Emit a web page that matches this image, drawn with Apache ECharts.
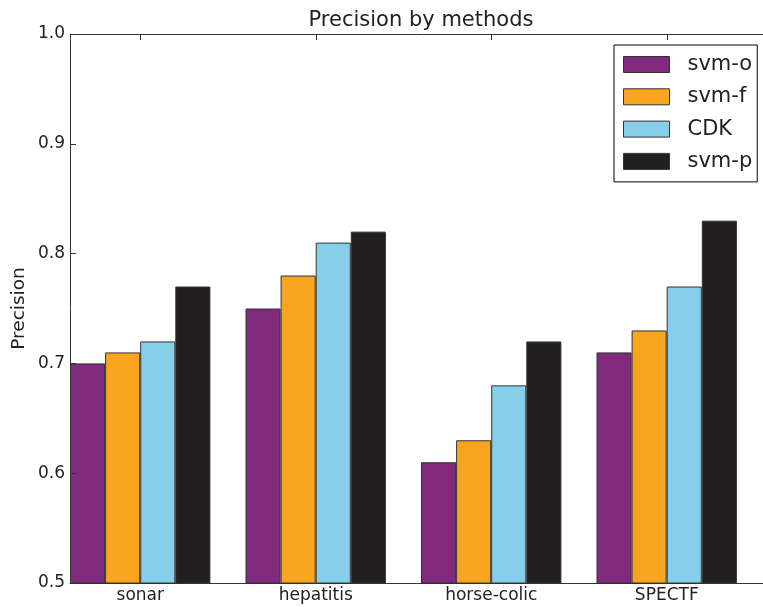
<!DOCTYPE html>
<html>
<head>
<meta charset="utf-8">
<style>
  html, body { margin: 0; padding: 0; background: #fff; }
  #chart { width: 763px; height: 607px; }
</style>
<script src="https://cdn.jsdelivr.net/npm/echarts@6/dist/echarts.min.js"></script>
</head>
<body>
<div id="chart"></div>
<script>
// Datasets on the category axis
const categories = ['sonar', 'hepatitis', 'horse-colic', 'SPECTF'];

// Precision of each method per dataset
const svmO = [0.70, 0.75, 0.61, 0.71];
const svmF = [0.71, 0.78, 0.63, 0.73];
const cdk  = [0.72, 0.81, 0.68, 0.77];
const svmP = [0.77, 0.82, 0.72, 0.83];

const methodNames = ['svm-o', 'svm-f', 'CDK', 'svm-p'];
const methodColors = ['#7f2a7c', '#f9a51f', '#87ceeb', '#231f20'];

// Value axis range and step
const yMin = 0.5, yMax = 1.0, yStep = 0.1;

const FONT = 'DejaVu Sans';
const INK = '#222';
const SPINE = '#333';

// Plot rectangle (extends a little past the right edge of the canvas)
const PLOT = { left: 70, top: 34, width: 702, height: 549 };
const CANVAS_W = 763;

// Each category band holds four bars plus one empty slot as the gap,
// so the bars of a group fill the left 4/5 of the band.
const slotsPerGroup = methodNames.length + 1;
const groupCenters = categories.map((_, i) => i + (methodNames.length / slotsPerGroup) / 2);

const seriesValues = [svmO, svmF, cdk, svmP];
const series = seriesValues.map((vals, i) => ({
  name: methodNames[i],
  type: 'bar',
  data: vals,
  barGap: '0%',
  barCategoryGap: '0%',
  itemStyle: { color: methodColors[i], borderColor: SPINE, borderWidth: 1 },
  emphasis: { disabled: true }
}));
// empty slot that leaves the gap after each group
series.push({
  name: 'gap',
  type: 'bar',
  data: [],
  barGap: '0%',
  barCategoryGap: '0%'
});

// Top frame line and the small inward ticks at the middle of each group
const crisp = (v) => Math.round(v) + 0.5;
const bandWidth = PLOT.width / categories.length;
const topFrame = [{
  type: 'line',
  silent: true,
  z: 20,
  shape: { x1: PLOT.left, y1: crisp(PLOT.top), x2: CANVAS_W, y2: crisp(PLOT.top) },
  style: { stroke: SPINE, lineWidth: 1 }
}].concat(groupCenters.map((c) => {
  const x = crisp(PLOT.left + c * bandWidth);
  return {
    type: 'line',
    silent: true,
    z: 20,
    shape: { x1: x, y1: PLOT.top, x2: x, y2: PLOT.top + 6 },
    style: { stroke: SPINE, lineWidth: 1 }
  };
}));

const chart = echarts.init(document.getElementById('chart'), null, { renderer: 'canvas' });
chart.setOption({
  animation: false,
  backgroundColor: '#fff',
  textStyle: { fontFamily: FONT },
  title: {
    text: 'Precision by methods',
    left: 421,
    textAlign: 'center',
    top: 10,
    padding: 0,
    textStyle: { fontFamily: FONT, fontSize: 21, fontWeight: 'normal', color: INK }
  },
  grid: {
    left: PLOT.left, top: PLOT.top, width: PLOT.width, height: PLOT.height,
    containLabel: false,
    outerBoundsMode: 'none'
  },
  legend: {
    data: methodNames,
    orient: 'vertical',
    left: 614,
    top: 45,
    padding: [9, 5, 10, 9],
    itemWidth: 46,
    itemHeight: 16,
    itemGap: 11.3,
    icon: 'rect',
    borderColor: '#000',
    borderWidth: 1,
    backgroundColor: '#fff',
    itemStyle: { borderColor: SPINE, borderWidth: 1 },
    textStyle: { fontFamily: FONT, fontSize: 21, color: INK, padding: [0, 0, 0, 13] },
    selectedMode: false
  },
  xAxis: {
    type: 'category',
    position: 'bottom',
    data: categories,
    boundaryGap: true,
    axisLine: { show: true, lineStyle: { color: SPINE, width: 1 } },
    axisTick: { show: false },
    axisLabel: {
      fontFamily: FONT, fontSize: 17, color: INK, margin: 4,
      padding: [0, 35, 0, 0]
    },
    splitLine: { show: false }
  },
  yAxis: {
    type: 'value',
    min: yMin,
    max: yMax,
    interval: yStep,
    z: 10,
    name: 'Precision',
    nameLocation: 'middle',
    nameRotate: 90,
    nameGap: 41,
    nameMoveOverlap: false,
    nameTextStyle: { fontFamily: FONT, fontSize: 18.5, color: INK },
    axisLine: { show: true, lineStyle: { color: SPINE, width: 1 } },
    axisTick: { show: true, inside: true, length: 6, lineStyle: { color: SPINE } },
    axisLabel: {
      fontFamily: FONT, fontSize: 17, color: INK, margin: 5,
      formatter: (v) => v.toFixed(1)
    },
    splitLine: { show: false }
  },
  graphic: topFrame,
  series: series
});
</script>
</body>
</html>
